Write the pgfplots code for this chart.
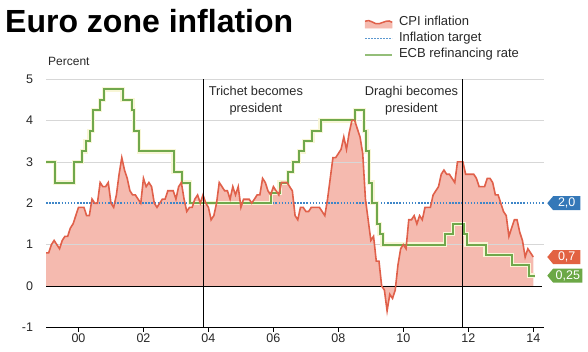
\documentclass[border=0pt]{standalone}
\usepackage{fontspec}
\setmainfont{Liberation Sans}
\usepackage{pgfplots}
\usepackage{pgfplotstable}
\pgfplotsset{compat=1.18}
\usetikzlibrary{shapes.symbols}

\definecolor{cpifill}{RGB}{245,186,175}
\definecolor{cpiline}{RGB}{224,96,74}
\definecolor{ecbgreen}{RGB}{112,168,76}
\definecolor{halo}{RGB}{248,246,214}
\definecolor{tgtblue}{RGB}{62,134,200}
\definecolor{tagblue}{RGB}{52,120,184}
\definecolor{tagred}{RGB}{226,98,66}
\definecolor{taggreen}{RGB}{108,168,70}
\definecolor{gridgray}{RGB}{215,215,215}
\definecolor{txt}{RGB}{40,40,40}

\pgfplotstableread{
x y
1999.000 0.8
1999.083 0.8
1999.167 1.0
1999.250 1.1
1999.333 1.0
1999.417 0.9
1999.500 1.1
1999.583 1.2
1999.667 1.2
1999.750 1.4
1999.833 1.5
1999.917 1.7
2000.000 1.9
2000.083 1.9
2000.167 1.9
2000.250 1.7
2000.333 1.7
2000.417 2.1
2000.500 2.0
2000.583 2.0
2000.667 2.5
2000.750 2.4
2000.833 2.4
2000.917 2.5
2001.000 2.0
2001.083 1.9
2001.167 2.2
2001.250 2.7
2001.333 3.1
2001.417 2.8
2001.500 2.6
2001.583 2.3
2001.667 2.2
2001.750 2.2
2001.833 2.1
2001.917 2.0
2002.000 2.6
2002.083 2.4
2002.167 2.5
2002.250 2.4
2002.333 2.0
2002.417 1.9
2002.500 2.0
2002.583 2.1
2002.667 2.1
2002.750 2.3
2002.833 2.3
2002.917 2.3
2003.000 2.1
2003.083 2.4
2003.167 2.5
2003.250 2.1
2003.333 1.8
2003.417 1.9
2003.500 1.9
2003.583 2.1
2003.667 2.2
2003.750 2.0
2003.833 2.2
2003.917 2.0
2004.000 1.9
2004.083 1.6
2004.167 1.7
2004.250 2.0
2004.333 2.5
2004.417 2.4
2004.500 2.3
2004.583 2.3
2004.667 2.1
2004.750 2.4
2004.833 2.2
2004.917 2.4
2005.000 1.9
2005.083 2.1
2005.167 2.1
2005.250 2.1
2005.333 2.0
2005.417 2.1
2005.500 2.2
2005.583 2.2
2005.667 2.6
2005.750 2.5
2005.833 2.3
2005.917 2.2
2006.000 2.4
2006.083 2.3
2006.167 2.2
2006.250 2.5
2006.333 2.5
2006.417 2.5
2006.500 2.4
2006.583 2.3
2006.667 1.7
2006.750 1.6
2006.833 1.9
2006.917 1.9
2007.000 1.8
2007.083 1.8
2007.167 1.9
2007.250 1.9
2007.333 1.9
2007.417 1.9
2007.500 1.8
2007.583 1.7
2007.667 2.1
2007.750 2.6
2007.833 3.1
2007.917 3.1
2008.000 3.2
2008.083 3.3
2008.167 3.6
2008.250 3.3
2008.333 3.7
2008.417 4.0
2008.500 4.0
2008.583 3.8
2008.667 3.6
2008.750 3.2
2008.833 2.1
2008.917 1.6
2009.000 1.1
2009.083 1.2
2009.167 0.6
2009.250 0.6
2009.333 0.0
2009.417 -0.1
2009.500 -0.6
2009.583 -0.2
2009.667 -0.3
2009.750 -0.1
2009.833 0.5
2009.917 0.9
2010.000 1.0
2010.083 0.9
2010.167 1.6
2010.250 1.6
2010.333 1.7
2010.417 1.5
2010.500 1.7
2010.583 1.6
2010.667 1.9
2010.750 1.9
2010.833 1.9
2010.917 2.2
2011.000 2.3
2011.083 2.4
2011.167 2.7
2011.250 2.8
2011.333 2.7
2011.417 2.7
2011.500 2.6
2011.583 2.5
2011.667 3.0
2011.750 3.0
2011.833 3.0
2011.917 2.7
2012.000 2.7
2012.083 2.7
2012.167 2.7
2012.250 2.6
2012.333 2.4
2012.417 2.4
2012.500 2.4
2012.583 2.6
2012.667 2.6
2012.750 2.5
2012.833 2.2
2012.917 2.2
2013.000 2.0
2013.083 1.8
2013.167 1.7
2013.250 1.2
2013.333 1.4
2013.417 1.6
2013.500 1.6
2013.583 1.3
2013.667 1.1
2013.750 0.7
2013.833 0.9
2013.917 0.8
2014.000 0.7
}\cpidata

\pgfplotstableread{
x y
1999.00 3.00
1999.27 2.50
1999.86 3.00
2000.11 3.25
2000.22 3.50
2000.34 3.75
2000.45 4.25
2000.67 4.50
2000.78 4.75
2001.36 4.50
2001.66 4.25
2001.71 3.75
2001.86 3.25
2002.93 2.75
2003.19 2.50
2003.44 2.00
2005.93 2.25
2006.19 2.50
2006.45 2.75
2006.61 3.00
2006.78 3.25
2006.95 3.50
2007.20 3.75
2007.45 4.00
2008.52 4.25
2008.79 3.75
2008.86 3.25
2008.94 2.50
2009.05 2.00
2009.19 1.50
2009.27 1.25
2009.36 1.00
2011.28 1.25
2011.53 1.50
2011.86 1.25
2011.95 1.00
2012.53 0.75
2013.35 0.50
2013.87 0.25
2014.05 0.25
}\ecbdata

\begin{document}
\begin{tikzpicture}
\path[use as bounding box] (0,0) rectangle (588bp,352bp);
\begin{axis}[
  scale only axis,
  width=498bp, height=248.4bp,
  at={(46bp,24.6bp)}, anchor=south west,
  xmin=1999, xmax=2014.33,
  ymin=-1, ymax=5,
  clip=false,
  axis line style={draw=none},
  xtick pos=bottom,
  ytick pos=left,
  xtick={2000,2002,2004,2006,2008,2010,2012,2014},
  xticklabels={00,02,04,06,08,10,12,14},
  ytick={-1,0,1,2,3,4,5},
  yticklabels={-1,0,1,2,3,4,5},
  ytick style={draw=none},
  xtick style={black, line width=0.8bp},
  tick align=outside,
  major tick length=4.5bp,
  ticklabel style={font=\fontsize{12.5bp}{14bp}\selectfont, text=txt},
  yticklabel style={anchor=east, xshift=-5bp},
  xticklabel style={yshift=1.5bp},
  legend style={at={(0.6386,1.2576)}, anchor=north west, draw=none, fill=none,
    inner sep=0pt, row sep=2.3bp, column sep=5bp,
    font=\fontsize{13bp}{14bp}\selectfont,
    nodes={inner sep=1bp, text height=9bp, text depth=3bp, text=txt}},
  legend cell align=left,
]
% CPI area
\addplot[fill=cpifill, draw=none, forget plot] table[x=x,y=y] {\cpidata} \closedcycle;
% grid lines
\addplot[gridgray, line width=0.6bp, forget plot] coordinates {(1999,1) (2014.33,1)};
\addplot[gridgray, line width=0.6bp, forget plot] coordinates {(1999,3) (2014.33,3)};
\addplot[gridgray, line width=0.6bp, forget plot] coordinates {(1999,4) (2014.33,4)};
\addplot[gridgray, line width=0.6bp, forget plot] coordinates {(1999,5) (2014.33,5)};
% zero line and bottom axis line
\addplot[black, line width=0.8bp, forget plot] coordinates {(1999,0) (2014.28,0)};
\addplot[black, line width=0.8bp, forget plot] coordinates {(1999,-1) (2014.33,-1)};
% inflation target
\addplot[tgtblue, line width=1.6bp, dash pattern=on 1.5bp off 1.6bp, forget plot] coordinates {(1999,2) (2014.33,2)};
% ECB rate
\addplot[halo, line width=4.4bp, const plot, forget plot] table[x=x,y=y] {\ecbdata};
\addplot[ecbgreen, line width=2bp, const plot, forget plot] table[x=x,y=y] {\ecbdata};
% CPI line
\addplot[cpiline, line width=1.6bp, forget plot] table[x=x,y=y] {\cpidata};
% presidents
\addplot[black, line width=0.8bp, forget plot] coordinates {(2003.83,-1) (2003.83,5)};
\addplot[black, line width=0.8bp, forget plot] coordinates {(2011.83,-1) (2011.83,5)};
\node[align=center, font=\fontsize{12.8bp}{17.3bp}\selectfont, text=txt] at (axis cs:2005.46,4.48) {Trichet becomes\\president};
\node[align=center, font=\fontsize{12.8bp}{17.3bp}\selectfont, text=txt] at (axis cs:2010.25,4.48) {Draghi becomes\\president};
% value tags
\tikzset{tag/.style={signal, signal to=west, signal pointer angle=100, text=white,
  font=\fontsize{12.5bp}{12.5bp}\selectfont, inner xsep=2.5bp, inner ysep=1.5bp,
  minimum height=14bp, minimum width=33bp, anchor=west, xshift=3bp}}
\node[tag, fill=tagblue] at (axis cs:2014.33,2.0) {2,0};
\node[tag, fill=tagred] at (axis cs:2014.33,0.7) {0,7};
\node[tag, fill=taggreen, minimum width=35bp] at (axis cs:2014.33,0.25) {0,25};
% legend
\addlegendimage{legend image code/.code={
  \fill[cpifill] (0bp,-6bp) -- (0bp,1bp) .. controls (5bp,4bp) and (9bp,-3bp) .. (14bp,-1.5bp) .. controls (19bp,0bp) and (23bp,3bp) .. (27bp,0bp) -- (27bp,-6bp) -- cycle;
  \draw[cpiline, line width=1.5bp] (0bp,1bp) .. controls (5bp,4bp) and (9bp,-3bp) .. (14bp,-1.5bp) .. controls (19bp,0bp) and (23bp,3bp) .. (27bp,0bp);}}
\addlegendentry{CPI inflation}
\addlegendimage{legend image code/.code={
  \draw[tgtblue!85!white, line width=1.4bp, dash pattern=on 1.4bp off 1.6bp] (0bp,0bp) -- (27bp,0bp);}}
\addlegendentry{Inflation target}
\addlegendimage{legend image code/.code={
  \draw[ecbgreen!75!white, line width=1.8bp] (0bp,0bp) -- (27bp,0bp);}}
\addlegendentry{ECB refinancing rate}
\end{axis}
\node[anchor=base west, inner sep=0pt, font=\fontsize{32bp}{36bp}\selectfont\bfseries] at (5bp,319.5bp) {Euro zone inflation};
\node[anchor=base west, inner sep=0pt, font=\fontsize{12bp}{14bp}\selectfont, text=txt] at (48bp,286bp) {Percent};
\end{tikzpicture}
\end{document}
